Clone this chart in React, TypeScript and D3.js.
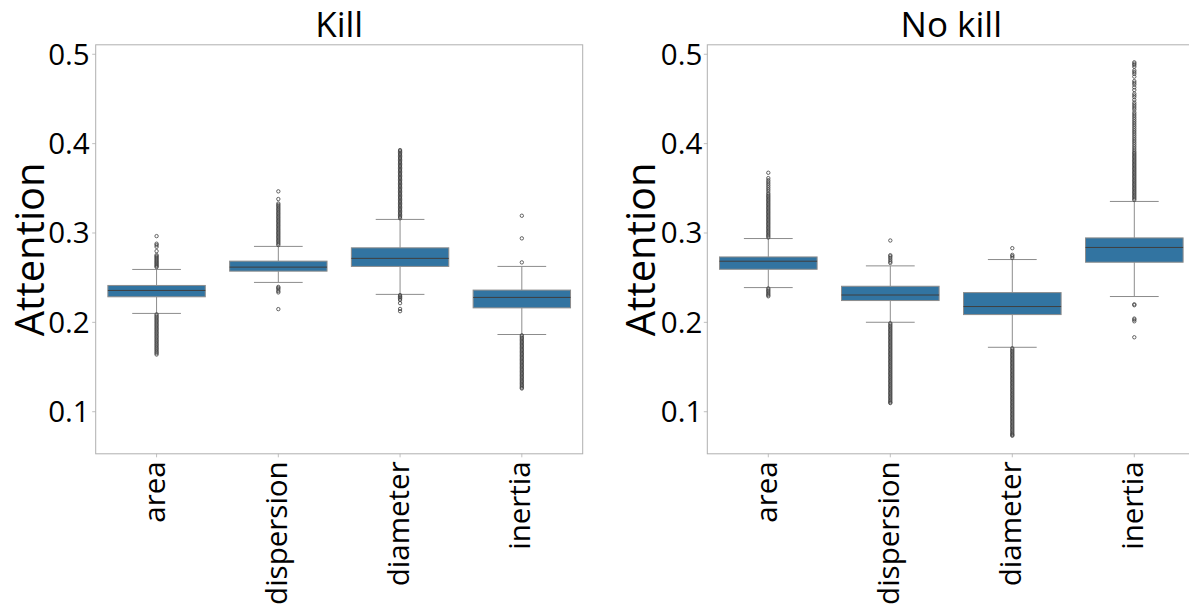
import React from "react";
import * as d3 from "d3";

const categories = ["area", "dispersion", "diameter", "inertia"];
const yTicks = [0.1, 0.2, 0.3, 0.4, 0.5];
const panelTitles = ["Kill", "No kill"];
const yLabel = "Attention";

// box stats: [whiskerLow, q1, median, q3, whiskerHigh]
const killStats = [
  [0.2100, 0.2286, 0.2357, 0.2413, 0.2592],
  [0.2447, 0.2573, 0.2618, 0.2685, 0.2850],
  [0.2313, 0.2626, 0.2716, 0.2834, 0.3152],
  [0.1864, 0.2162, 0.2279, 0.2361, 0.2626],
];
const noKillStats = [
  [0.2389, 0.2594, 0.2684, 0.2732, 0.2938],
  [0.2001, 0.2244, 0.2306, 0.2404, 0.2632],
  [0.1721, 0.2087, 0.2177, 0.2333, 0.2703],
  [0.2289, 0.2673, 0.2838, 0.2945, 0.3353],
];

// outliers
const killAreaOut = [0.2965, 0.2880, 0.2865, 0.2845, 0.2797, 0.2753, 0.2740, 0.2728, 0.2715, 0.2703, 0.2690, 0.2678, 0.2665, 0.2653, 0.2640, 0.2628, 0.2618,
  0.2090, 0.2075, 0.2060, 0.2045, 0.2030, 0.2015, 0.2000, 0.1985, 0.1970, 0.1955, 0.1940, 0.1925, 0.1910, 0.1895, 0.1880, 0.1865, 0.1850, 0.1835, 0.1820, 0.1805, 0.1790, 0.1775, 0.1760, 0.1745, 0.1730, 0.1715, 0.1700, 0.1685, 0.1670, 0.1655, 0.1640];
const killDispOut = [0.3466, 0.3380, 0.3330, 0.3315, 0.3300, 0.3285, 0.3270, 0.3255, 0.3240, 0.3225, 0.3210, 0.3195, 0.3180, 0.3165, 0.3150, 0.3135, 0.3120, 0.3105, 0.3090, 0.3075, 0.3060, 0.3045, 0.3030, 0.3015, 0.3000, 0.2985, 0.2970, 0.2955, 0.2940, 0.2925, 0.2910, 0.2895, 0.2880, 0.2865,
  0.2397, 0.2385, 0.2370, 0.2350, 0.2335, 0.2148];
const killDiamOut = [0.3928, 0.3915, 0.3900, 0.3885, 0.3870, 0.3855, 0.3840, 0.3825, 0.3810, 0.3795, 0.3780, 0.3765, 0.3750, 0.3735, 0.3720, 0.3705, 0.3690, 0.3675, 0.3660, 0.3645, 0.3630, 0.3615, 0.3600, 0.3585, 0.3570, 0.3555, 0.3540, 0.3525, 0.3510, 0.3495, 0.3480, 0.3465, 0.3450, 0.3435, 0.3420, 0.3405, 0.3390, 0.3375, 0.3360, 0.3345, 0.3330, 0.3315, 0.3300, 0.3285, 0.3270, 0.3255, 0.3240, 0.3225, 0.3210, 0.3195, 0.3180, 0.3165,
  0.2305, 0.2290, 0.2280, 0.2265, 0.2250, 0.2215, 0.2150, 0.2125];
const killInerOut = [0.3193, 0.2940, 0.2671,
  0.1855, 0.1840, 0.1825, 0.1810, 0.1795, 0.1780, 0.1765, 0.1750, 0.1735, 0.1720, 0.1705, 0.1690, 0.1675, 0.1660, 0.1645, 0.1630, 0.1615, 0.1600, 0.1585, 0.1570, 0.1555, 0.1540, 0.1525, 0.1510, 0.1495, 0.1480, 0.1465, 0.1450, 0.1435, 0.1420, 0.1405, 0.1390, 0.1375, 0.1360, 0.1345, 0.1330, 0.1315, 0.1300, 0.1285, 0.1270, 0.1260];

const noKillAreaOut = [0.3674, 0.3614, 0.3590, 0.3570, 0.3550, 0.3530, 0.3510, 0.3490, 0.3470, 0.3446, 0.3430, 0.3415, 0.3400, 0.3385, 0.3370, 0.3355, 0.3340, 0.3325, 0.3310, 0.3295, 0.3280, 0.3265, 0.3250, 0.3235, 0.3220, 0.3205, 0.3190, 0.3175, 0.3160, 0.3145, 0.3130, 0.3115, 0.3100, 0.3085, 0.3070, 0.3055, 0.3040, 0.3025, 0.3010, 0.2995, 0.2980, 0.2965, 0.2950,
  0.2380, 0.2365, 0.2350, 0.2335, 0.2320, 0.2305, 0.2292];
const noKillDispOut = [0.2916, 0.2751, 0.2738, 0.2720, 0.2700, 0.2680, 0.2665,
  0.1990, 0.1975, 0.1960, 0.1945, 0.1930, 0.1915, 0.1900, 0.1885, 0.1870, 0.1855, 0.1840, 0.1825, 0.1810, 0.1795, 0.1780, 0.1765, 0.1750, 0.1735, 0.1720, 0.1705, 0.1690, 0.1675, 0.1660, 0.1645, 0.1630, 0.1615, 0.1600, 0.1585, 0.1570, 0.1555, 0.1540, 0.1525, 0.1510, 0.1495, 0.1480, 0.1465, 0.1450, 0.1435, 0.1420, 0.1405, 0.1390, 0.1375, 0.1360, 0.1345, 0.1330, 0.1315, 0.1300, 0.1285, 0.1270, 0.1255, 0.1240, 0.1225, 0.1210, 0.1195, 0.1180, 0.1165, 0.1150, 0.1135, 0.1120, 0.1105, 0.1097];
const noKillDiamOut = [0.2830, 0.2755, 0.2740, 0.2722,
  0.1710, 0.1695, 0.1680, 0.1665, 0.1650, 0.1635, 0.1620, 0.1605, 0.1590, 0.1575, 0.1560, 0.1545, 0.1530, 0.1515, 0.1500, 0.1485, 0.1470, 0.1455, 0.1440, 0.1425, 0.1410, 0.1395, 0.1380, 0.1365, 0.1350, 0.1335, 0.1320, 0.1305, 0.1290, 0.1275, 0.1260, 0.1245, 0.1230, 0.1215, 0.1200, 0.1185, 0.1170, 0.1155, 0.1140, 0.1125, 0.1110, 0.1095, 0.1080, 0.1065, 0.1050, 0.1035, 0.1020, 0.1005, 0.0990, 0.0975, 0.0960, 0.0945, 0.0930, 0.0915, 0.0900, 0.0885, 0.0870, 0.0855, 0.0840, 0.0825, 0.0810, 0.0795, 0.0780, 0.0765, 0.0750, 0.0740, 0.0731];
const noKillInerOut = [0.4910, 0.4895, 0.4880, 0.4860, 0.4820, 0.4800, 0.4780, 0.4750, 0.4700, 0.4680, 0.4660, 0.4630, 0.4600, 0.4560, 0.4540, 0.4520, 0.4490, 0.4460, 0.4440, 0.4420, 0.4400, 0.4380, 0.4350, 0.4330, 0.4310, 0.4290, 0.4270, 0.4250, 0.4230, 0.4210, 0.4190, 0.4170, 0.4150, 0.4130, 0.4110, 0.4090, 0.4070, 0.4050, 0.4030, 0.4010, 0.3990, 0.3970, 0.3950, 0.3930, 0.3910, 0.3895,
  0.3880, 0.3865, 0.3850, 0.3835, 0.3820, 0.3805, 0.3790, 0.3775, 0.3760, 0.3745, 0.3730, 0.3715, 0.3700, 0.3685, 0.3670, 0.3655, 0.3640, 0.3625, 0.3610, 0.3595, 0.3580, 0.3565, 0.3550, 0.3535, 0.3520, 0.3505, 0.3490, 0.3475, 0.3460, 0.3445, 0.3430, 0.3415, 0.3400, 0.3385, 0.3370,
  0.2202, 0.2192, 0.2042, 0.2030, 0.2012, 0.1833];

const killOutliers = [killAreaOut, killDispOut, killDiamOut, killInerOut];
const noKillOutliers = [noKillAreaOut, noKillDispOut, noKillDiamOut, noKillInerOut];

const W = 1189;
const H = 610;
const FONT = "'Open Sans', 'Noto Sans', sans-serif";
const BOX_FILL = "#3274a1";
const LINE = "#3f3f3f";
const WHISK = "#8c8c8c";
const SPINE = "#b0b0b0";
const TICK_FS = 29.5;

const yScale = d3.scaleLinear().domain([0.0529, 0.5106]).range([453.8, 44.8]);

type PanelProps = {
  left: number;
  right: number;
  title: string;
  stats: number[][];
  outliers: number[][];
  labelX: number;
  tickOffset: number;
};

function Panel({ left, right, title, stats, outliers, labelX, tickOffset }: PanelProps) {
  const x = d3.scaleBand<string>().domain(categories).range([left, right]).padding(0);
  const bw = x.bandwidth();
  const boxW = bw * 0.8;
  const capW = boxW / 2;
  const [y0, y1] = yScale.range();
  const cy = (y0 + y1) / 2;
  return (
    <g>
      <rect x={left} y={y1} width={right - left} height={y0 - y1} fill="none" stroke={SPINE} strokeWidth={1} />
      {yTicks.map((t) => (
        <g key={t}>
          <line x1={left - 3.5} x2={left} y1={yScale(t)} y2={yScale(t)} stroke={SPINE} strokeWidth={0.8} />
          <text x={left - tickOffset} y={yScale(t) + 10.5} textAnchor="end" fontSize={TICK_FS} fontFamily={FONT} fill="#000">
            {t.toFixed(1)}
          </text>
        </g>
      ))}
      {categories.map((c) => {
        const cx = (x(c) as number) + bw / 2;
        return (
          <g key={c}>
            <line x1={cx} x2={cx} y1={y0} y2={y0 + 3.5} stroke={SPINE} strokeWidth={0.8} />
            <text
              transform={`translate(${cx + 8.5},${y0 + 7.5}) rotate(-90)`}
              textAnchor="end"
              fontSize={TICK_FS}
              fontFamily={FONT}
              fill="#000"
            >
              {c}
            </text>
          </g>
        );
      })}
      {categories.map((c, i) => {
        const cx = (x(c) as number) + bw / 2;
        const [wl, q1, med, q3, wh] = stats[i];
        return (
          <g key={c}>
            <line x1={cx} x2={cx} y1={yScale(q3)} y2={yScale(wh)} stroke={WHISK} strokeWidth={1} />
            <line x1={cx} x2={cx} y1={yScale(q1)} y2={yScale(wl)} stroke={WHISK} strokeWidth={1} />
            <line x1={cx - capW / 2} x2={cx + capW / 2} y1={yScale(wh)} y2={yScale(wh)} stroke={WHISK} strokeWidth={1} />
            <line x1={cx - capW / 2} x2={cx + capW / 2} y1={yScale(wl)} y2={yScale(wl)} stroke={WHISK} strokeWidth={1} />
            <rect
              x={cx - boxW / 2}
              y={yScale(q3)}
              width={boxW}
              height={yScale(q1) - yScale(q3)}
              fill={BOX_FILL}
              stroke={WHISK}
              strokeWidth={1}
            />
            <line x1={cx - boxW / 2} x2={cx + boxW / 2} y1={yScale(med)} y2={yScale(med)} stroke={LINE} strokeWidth={1} />
            {outliers[i].map((v, k) => (
              <circle key={k} cx={cx} cy={yScale(v)} r={1.7} fill="none" stroke={LINE} strokeWidth={0.8} />
            ))}
          </g>
        );
      })}
      <text x={(left + right) / 2} y={37} textAnchor="middle" fontSize={35} fontFamily={FONT} fill="#000">
        {title}
      </text>
      <text
        transform={`translate(${labelX},${cy}) rotate(-90)`}
        textAnchor="middle"
        fontSize={40}
        fontFamily={FONT}
        fill="#000"
      >
        {yLabel}
      </text>
    </g>
  );
}

export default function App() {
  return (
    <svg
      width={W}
      height={H}
      viewBox={`0 0 ${W} ${H}`}
      style={{ position: "absolute", left: 0, top: 0, background: "#fff" }}
    >
      <rect x={0} y={0} width={W} height={H} fill="#fff" />
      <Panel left={95.7} right={582.7} title={panelTitles[0]} stats={killStats} outliers={killOutliers} labelX={44} tickOffset={6} />
      <Panel left={707.3} right={1195.3} title={panelTitles[1]} stats={noKillStats} outliers={noKillOutliers} labelX={655} tickOffset={5} />
    </svg>
  );
}
